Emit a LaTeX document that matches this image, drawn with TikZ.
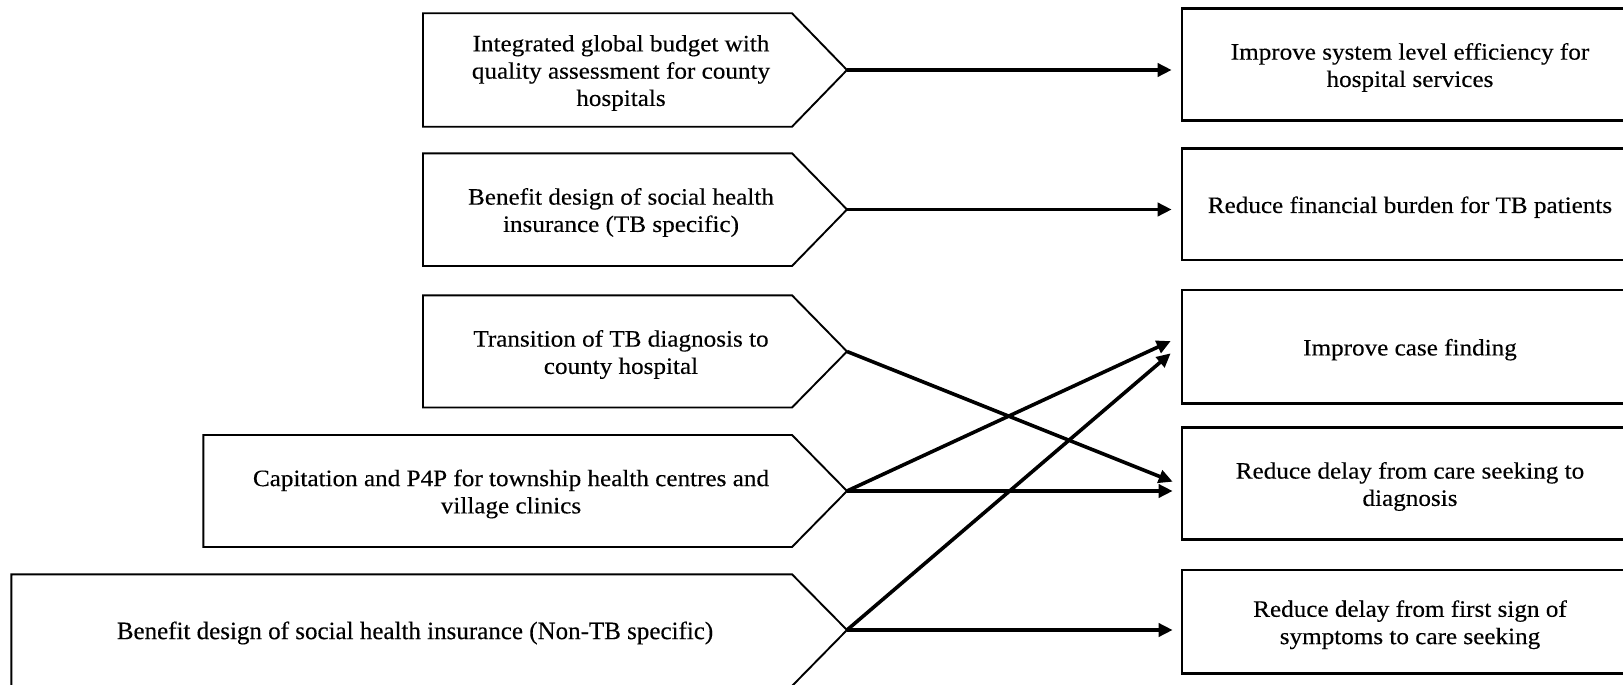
\documentclass[tikz,border=0pt]{standalone}
\usepackage{fontspec}
\setmainfont{Liberation Serif}[FakeStretch=1.07,FakeBold=0.3]
\newfontfamily\wideserif{Liberation Serif}[FakeBold=0.3]
\usetikzlibrary{arrows.meta,calc}
\begin{document}
\begin{tikzpicture}[x=1pt,y=-1pt,
  pent/.style={draw, line width=1.9pt, line join=miter},
  txt/.style={align=center, font=\fontsize{23.5pt}{27.3pt}\selectfont, inner sep=0pt, yshift=-3pt},
  rbox/.style={draw, line width=2.6pt, minimum width=456pt, align=center,
    font=\fontsize{23.5pt}{27.3pt}\selectfont, inner sep=0pt},
  rtxt/.style={txt},
  arr/.style={line width=3.6pt, -{Triangle[length=14pt,width=13pt]}}
]
\useasboundingbox (0,0) rectangle (1623,685);

% left pentagons (policy levers)
\draw[pent] (423,13.3) -- (792,13.3) -- (847,70) -- (792,126.7) -- (423,126.7) -- cycle;
\draw[pent] (423,153.3) -- (792,153.3) -- (847,209.5) -- (792,266) -- (423,266) -- cycle;
\draw[pent] (423,295.3) -- (792,295.3) -- (847,351.5) -- (792,407.5) -- (423,407.5) -- cycle;
\draw[pent] (203.3,435) -- (792,435) -- (847,491) -- (792,547) -- (203.3,547) -- cycle;
\draw[pent] (11.4,574.3) -- (792,574.3) -- (847,630) -- (792,686) -- (11.4,686) -- cycle;

\coordinate (t1) at (847,70);
\coordinate (t2) at (847,209.5);
\coordinate (t3) at (847,351.5);
\coordinate (t4) at (847,491);
\coordinate (t5) at (847,630);

\node[txt] (l1) at (621,70) {Integrated global budget with\\quality assessment for county\\hospitals};
\node[txt] (l2) at (621,209.5) {Benefit design of social health\\insurance (TB specific)};
\node[txt] (l3) at (621,351.5) {Transition of TB diagnosis to\\county hospital};
\node[txt] (l4) at (511,491) {Capitation and P4P for township health centres and\\village clinics};
\node[txt, font=\wideserif\fontsize{25pt}{29pt}\selectfont] (l5) at (415,630) {Benefit design of social health insurance (Non-TB specific)};

% right boxes (outcomes)
\node[rbox, minimum height=112.4pt] (r1) at (1410,64.5) {};
\node[rbox, minimum height=111.7pt] (r2) at (1410,204.2) {};
\node[rbox, minimum height=113.3pt] (r3) at (1410,346.7) {};
\node[rbox, minimum height=111.6pt] (r4) at (1410,483.5) {};
\node[rbox, minimum height=103.3pt] (r5) at (1410,621.7) {};
\node[rtxt] (r1t) at (r1) {Improve system level efficiency for\\hospital services};
\node[rtxt] (r2t) at (r2) {Reduce financial burden for TB patients};
\node[rtxt] (r3t) at (r3) {Improve case finding};
\node[rtxt] (r4t) at (r4) {Reduce delay from care seeking to\\diagnosis};
\node[rtxt] (r5t) at (r5) {Reduce delay from first sign of\\symptoms to care seeking};

\coordinate (r3a) at ($(r3.west)+(-10,-5.6)$);
\coordinate (r3b) at ($(r3.west)+(-10,6.6)$);
\coordinate (r4a) at ($(r4.west)+(-8,-1.8)$);

% connectors
\draw[arr, shorten >=9pt] (t1) -- (t1 -| r1.west);
\draw[arr, shorten >=9pt] (t2) -- (t2 -| r2.west);
\draw[arr] (t3) -- (r4a);
\draw[arr] (t4) -- (r3a);
\draw[arr, shorten >=8pt] (t4) -- (t4 -| r4.west);
\draw[arr] (t5) -- (r3b);
\draw[arr, shorten >=8pt] (t5) -- (t5 -| r5.west);
\end{tikzpicture}
\end{document}
